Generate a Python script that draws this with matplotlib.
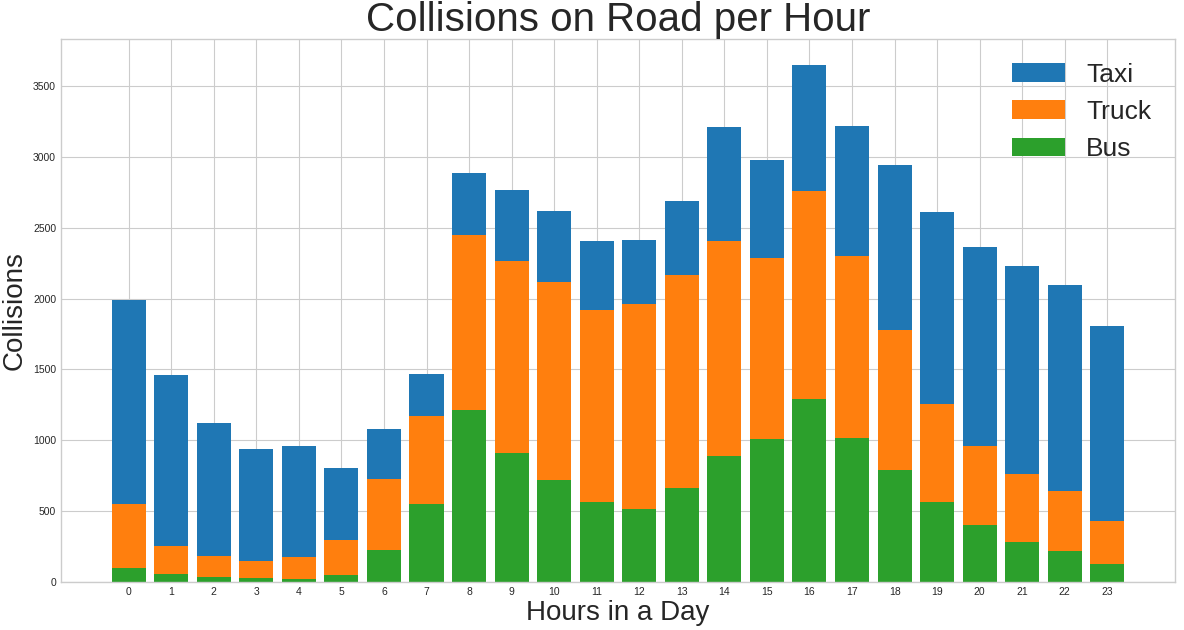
import numpy as np
import matplotlib
matplotlib.use('Agg')
from matplotlib import pyplot as plt

hours = list(range(24))

taxi = [1990, 1461, 1122, 941, 960, 807, 1080, 1471, 2885, 2768, 2619, 2407,
        2415, 2690, 3212, 2979, 3650, 3219, 2944, 2612, 2365, 2233, 2097, 1805]
truck = [553, 256, 186, 150, 179, 299, 729, 1174, 2452, 2268, 2120, 1923,
         1965, 2170, 2410, 2283, 2756, 2304, 1779, 1259, 962, 765, 645, 433]
bus = [101, 59, 37, 30, 23, 52, 228, 553, 1216, 913, 722, 567,
       517, 666, 892, 1012, 1294, 1019, 793, 567, 405, 285, 221, 129]

plt.style.use('seaborn-v0_8-whitegrid')

fig = plt.figure(figsize=(11.84, 6.3), dpi=100)
ax = fig.add_axes([0.0515, 0.0762, 0.9409, 0.862])

ax.bar(hours, taxi, label='Taxi', color='#1f77b4')
ax.bar(hours, truck, label='Truck', color='#ff7f0e')
ax.bar(hours, bus, label='Bus', color='#2ca02c')

ax.set_xticks(hours)
ax.tick_params(labelsize=7.5)
ax.set_title('Collisions on Road per Hour', fontsize=29, pad=4)
ax.set_xlabel('Hours in a Day', fontsize=20, labelpad=2)
ax.set_ylabel('Collisions', fontsize=20, labelpad=4)
ax.legend(loc='upper right', fontsize=19)
for s in ax.spines.values():
    s.set_visible(True)
    s.set_color('#cccccc')

fig.savefig('out.png', dpi=100)
